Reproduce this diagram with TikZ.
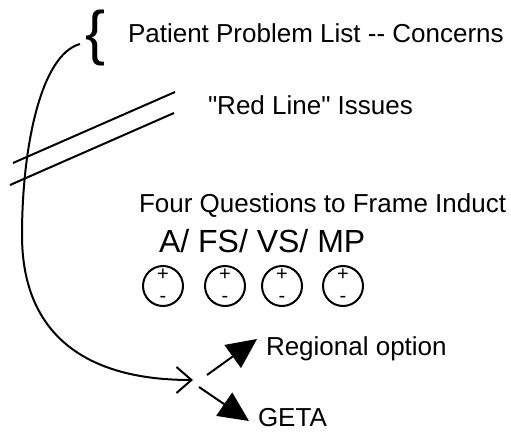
\documentclass[tikz,border=0pt]{standalone}
\usepackage{fontspec}
\setmainfont{Liberation Sans}[Ligatures=TeXOff]
\usetikzlibrary{arrows.meta,positioning,calc}

\begin{document}
\begin{tikzpicture}[x=1pt,y=-1pt,line width=2pt,
        txt/.style={anchor=base west,inner sep=0pt,font=\fontsize{26}{31}\selectfont},
        sign/.style={circle,draw,minimum size=40pt,inner sep=0pt,align=center,
            font=\fontsize{20}{22}\selectfont}]
        \useasboundingbox (0,0) rectangle (511,431);

        % Headings
        \node[inner sep=0pt,font=\fontsize{60}{64}\selectfont] (brace) at (96,38) {\{};
        \node[txt] (concerns) at (127,42) {Patient Problem List -- Concerns};
        \node[txt] (redline) at (207,114) {"Red Line" Issues};
        \node[txt] (questions) at (138,212) {Four Questions to Frame Induct};
        \node[txt,font=\fontsize{32}{38}\selectfont] (afsvsmp) at (158,252) {A/ FS/ VS/ MP};

        % Plus / minus circles
        \foreach \x [count=\i] in {163,225,282,343} {
            \node[sign] (c\i) at (\x,286) {+\\-};
        }

        % Options
        \node[txt] (regional) at (265,355) {Regional option};
        \node[txt] (geta) at (257,426) {GETA};

        % Red line
        \draw (13,163) -- (175,92);
        \draw (10,185) -- (174,113);

        % Arrows
        \coordinate (start) at (80,44);
        \coordinate (fork) at (193,380);
        \coordinate (regstart) at (207,375);
        \coordinate (getastart) at (199,387);
        \draw[-{Straight Barb[length=15pt,width=26pt]}] (start) .. controls (40,55) and (22,150) .. (22,235)
            .. controls (22,330) and (80,380) .. (fork);
        \draw[-{Triangle[length=30pt,width=28pt]}] (regstart) -- (257,339);
        \draw[-{Triangle[length=30pt,width=28pt]}] (getastart) -- (249,421);
    \end{tikzpicture}
\end{document}
